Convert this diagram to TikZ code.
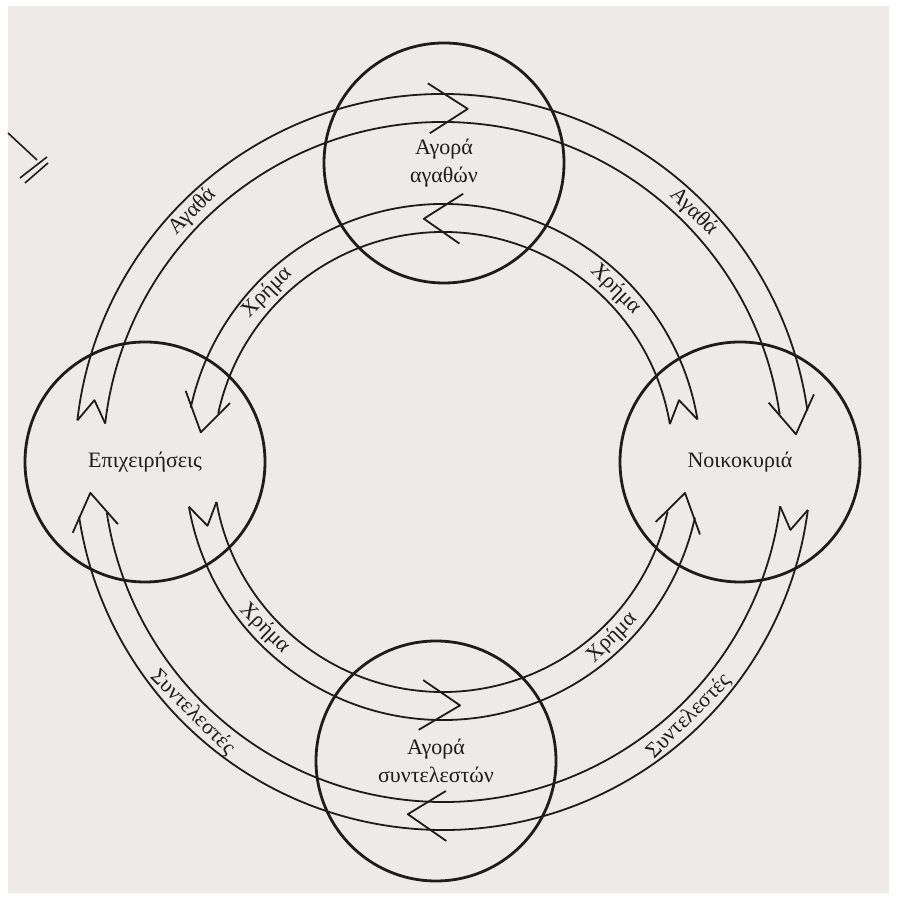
\documentclass[tikz,border=0pt]{standalone}
\usepackage{fontspec}
\setmainfont{Liberation Serif}
\usetikzlibrary{calc,positioning}

% broad arrow along an arc round (O): tail angle, tip angle, inner radius, outer radius
\newcommand{\flowband}[4]{%
  \pgfmathsetmacro{\bandmid}{(#3+#4)/2}%
  \pgfmathsetmacro{\banddir}{sign(#2-#1)}%
  \pgfmathsetmacro{\bandnotch}{\banddir*22/\bandmid*180/pi}%
  \pgfmathsetmacro{\bandhead}{\banddir*36/\bandmid*180/pi}%
  \pgfmathsetmacro{\bandend}{#2-\bandhead*14/23}%
  \draw[band] ($(O)+(#1:#4)$) arc[start angle=#1, end angle=\bandend, radius=#4];
  \draw[band] ($(O)+(#1:#3)$) arc[start angle=#1, end angle=\bandend, radius=#3];
  \draw[band] ($(O)+(#1:#4)$) -- ($(O)+(#1+\bandnotch:\bandmid)$) -- ($(O)+(#1:#3)$);
  \draw[band] ($(O)+(#2-\bandhead:{#4+9})$) -- ($(O)+(#2:\bandmid)$) -- ($(O)+(#2-\bandhead:{#3-9})$);
}
% open chevron across a band: tip angle, arm angle, inner radius, outer radius
\newcommand{\flowmark}[4]{%
  \draw[band] ($(O)+(#2:{#4+11})$) -- ($(O)+(#1:{(#3+#4)/2})$) -- ($(O)+(#2:{#3-11})$);
}

\definecolor{paper}{RGB}{237,235,232}
\definecolor{ink}{RGB}{30,29,28}

\begin{document}
\begin{tikzpicture}[
    x=0.5pt, y=0.5pt,
    market/.style={circle, draw=ink, line width=1.4pt, minimum size=120pt, inner sep=0pt, align=center, text=ink, font=\fontsize{11}{14}\selectfont},
    band/.style={draw=ink, line width=0.9pt, line join=round},
    flowlabel/.style={inner sep=1pt, text=ink, font=\fontsize{11}{13}\selectfont},
    scribble/.style={draw=ink, line width=0.8pt},
]

% === PAGE ===
\useasboundingbox (0,0) rectangle (896,897);
\fill[white] (0,0) rectangle (896,897);
\fill[paper] (8,4) rectangle (889,891);

\coordinate (O) at (443,435);

% === MARKETS AND SECTORS ===
\node[market] (goods) at ($(O)+(1,299)$) {Αγορά\\αγαθών};
\node[market] (firms) at ($(O)+(-298,0)$) {Επιχειρήσεις};
\node[market] (homes) at ($(O)+(297,0)$) {Νοικοκυριά};
\node[market] (factors) at ($(O)+(-7,-299)$) {Αγορά\\συντελεστών};

% === FLOWS ===
% Goods: firms -> goods market -> households
\flowband{173.5}{4.5}{340}{368}
\flowmark{86}{92.3}{340}{368}
% Money: households -> goods market -> firms
\flowband{9.5}{173}{230}{258}
\flowmark{94.5}{85.7}{230}{258}
% Factors: households -> factor market -> firms
\flowband{-7.5}{-175}{340}{368}
\flowmark{264.3}{270.5}{340}{368}
% Money: firms -> factor market -> households
\flowband{190}{352.7}{230}{258}
\flowmark{274}{264.8}{230}{258}

% === LABELS ===
\node[flowlabel, rotate=45] (goods-ul) at ($(O)+(135:354)$) {Αγαθά};
\node[flowlabel, rotate=-45] (goods-ur) at ($(O)+(45:354)$) {Αγαθά};
\node[flowlabel, rotate=45] (money-ul) at ($(O)+(136:244)$) {Χρήμα};
\node[flowlabel, rotate=-45] (money-ur) at ($(O)+(45:244)$) {Χρήμα};
\node[flowlabel, rotate=-45] (money-ll) at ($(O)+(223:244)$) {Χρήμα};
\node[flowlabel, rotate=-45] (factors-ll) at ($(O)+(225:354)$) {Συντελεστές};
\node[flowlabel, rotate=45] (money-lr) at ($(O)+(314:244)$) {Χρήμα};
\node[flowlabel, rotate=45] (factors-lr) at ($(O)+(314:354)$) {Συντελεστές};

% stray mark, top left
\draw[scribble] (8,764) -- (37,737);
\draw[scribble] (20,719) -- (47,740) (25,714) -- (48,734);

\end{tikzpicture}
\end{document}
